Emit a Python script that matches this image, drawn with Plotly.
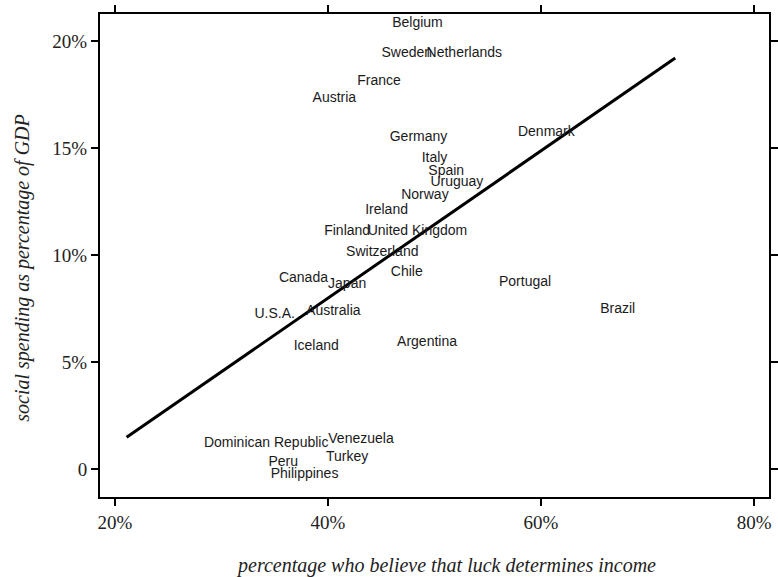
import plotly.graph_objects as go

countries = ["Belgium", "Sweden", "Netherlands", "France", "Austria", "Germany", "Denmark",
             "Italy", "Spain", "Uruguay", "Norway", "Ireland", "Finland", "United Kingdom",
             "Switzerland", "Chile", "Canada", "Japan", "Portugal", "U.S.A.", "Australia",
             "Brazil", "Iceland", "Argentina", "Dominican Republic", "Venezuela", "Turkey",
             "Peru", "Philippines"]
luck_pct = [48.4, 47.4, 52.8, 44.8, 40.6, 48.5, 60.5,
            50.0, 51.1, 52.1, 49.1, 45.5, 41.8, 48.4,
            45.1, 47.4, 37.7, 41.8, 58.5, 35.0, 40.5,
            67.2, 38.9, 49.3, 34.2, 43.1, 41.8,
            35.8, 37.8]
social_pct = [20.8, 19.4, 19.4, 18.1, 17.3, 15.5, 15.7,
              14.5, 13.9, 13.4, 12.8, 12.1, 11.1, 11.1,
              10.1, 9.2, 8.9, 8.6, 8.7, 7.2, 7.35,
              7.46, 5.7, 5.9, 1.2, 1.4, 0.53,
              0.31, -0.28]

fit_x = [21.1, 72.6]
fit_y = [1.48, 19.2]

x_ticks = [20, 40, 60, 80]
x_tick_labels = ["20%", "40%", "60%", "80%"]
y_ticks = [0, 5, 10, 15, 20]
y_tick_labels = ["0", "5%", "10%", "15%", "20%"]

fig = go.Figure()
fig.add_trace(go.Scatter(
    x=fit_x, y=fit_y, mode="lines",
    line=dict(color="black", width=3), hoverinfo="skip", showlegend=False))
fig.add_trace(go.Scatter(
    x=luck_pct, y=social_pct, mode="text", text=countries,
    textposition="middle center",
    textfont=dict(family="Liberation Sans, Arial, sans-serif", size=14, color="#1a1a1a"),
    showlegend=False))

axis_common = dict(
    showgrid=False, zeroline=False, showline=True, linecolor="black", linewidth=2,
    mirror="ticks", ticks="outside", ticklen=7, tickwidth=2, tickcolor="black",
    automargin=False,
    tickfont=dict(family="Liberation Serif, Times New Roman, serif", size=19, color="#222"),
)

fig.update_layout(
    width=778, height=577,
    margin=dict(l=100, r=9, t=14, b=80, autoexpand=False),
    paper_bgcolor="white", plot_bgcolor="white",
    xaxis=dict(range=[18.6, 81.4], tickvals=x_ticks, ticktext=x_tick_labels, **axis_common),
    yaxis=dict(range=[-1.31, 21.26], tickvals=y_ticks, ticktext=y_tick_labels, **axis_common),
    annotations=[
        dict(text="<i>percentage who believe that luck determines income</i>",
             xref="paper", yref="paper", x=0.517, y=-0.141, showarrow=False,
             xanchor="center", yanchor="middle",
             font=dict(family="Liberation Serif, Times New Roman, serif", size=20, color="#222")),
        dict(text="<i>social spending as percentage of GDP</i>",
             xref="paper", yref="paper", x=-0.117, y=0.474, showarrow=False,
             xanchor="center", yanchor="middle", textangle=-90,
             font=dict(family="Liberation Serif, Times New Roman, serif", size=20, color="#222")),
    ],
)

fig.write_html(
    "out.html",
    config={"displayModeBar": False},
    post_script="document.body.style.margin='0';document.body.style.overflow='hidden';",
)
